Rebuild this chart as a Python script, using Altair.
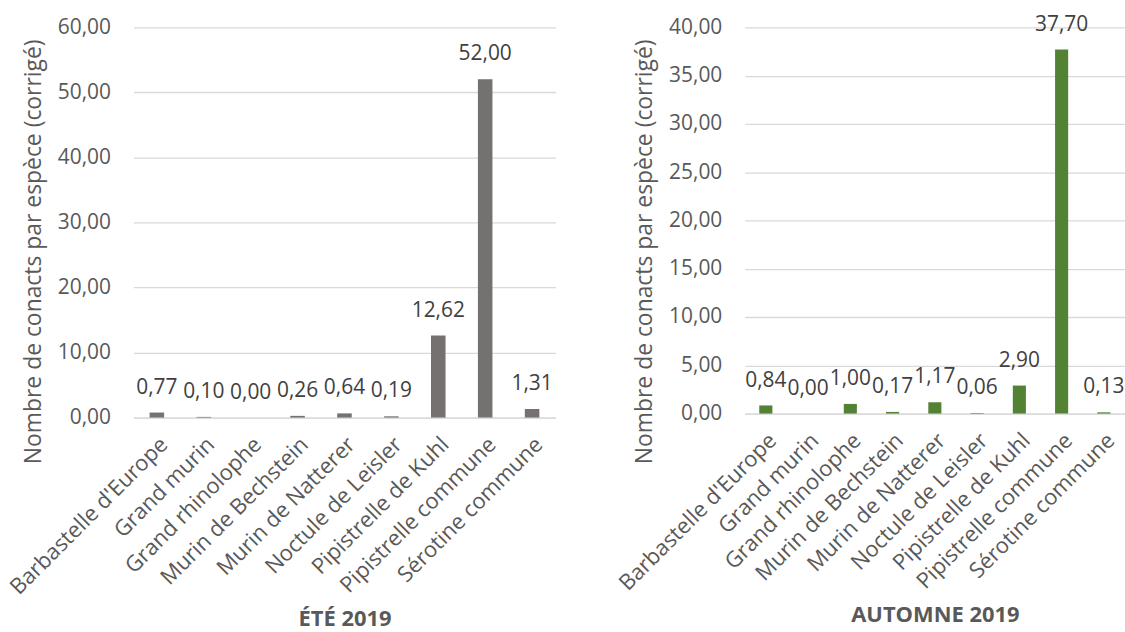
import altair as alt
import pandas as pd

species = [
    "Barbastelle d'Europe",
    "Grand murin",
    "Grand rhinolophe",
    "Murin de Bechstein",
    "Murin de Natterer",
    "Noctule de Leisler",
    "Pipistrelle de Kuhl",
    "Pipistrelle commune",
    "Sérotine commune",
]
ete_values = [0.77, 0.10, 0.00, 0.26, 0.64, 0.19, 12.62, 52.00, 1.31]
automne_values = [0.84, 0.00, 1.00, 0.17, 1.17, 0.06, 2.90, 37.70, 0.13]

ete_ticks = [0, 10, 20, 30, 40, 50, 60]
automne_ticks = [0, 5, 10, 15, 20, 25, 30, 35, 40]

y_title = "Nombre de conacts par espèce (corrigé)"
FONT = "Open Sans"
fmt_expr = "replace(format(datum.value, '.2f'), '.', ',')"


def panel(values, color, title, ticks, width, height, title_y):
    df = pd.DataFrame({"espece": species, "valeur": values})
    base = alt.Chart(df).transform_calculate(
        lab="replace(format(datum.valeur, '.2f'), '.', ',')"
    )
    x = alt.X(
        "espece:N",
        sort=species,
        scale=alt.Scale(paddingInner=0.69, paddingOuter=0.345),
        axis=alt.Axis(
            title=title,
            labelAngle=-45,
            labelFontSize=22,
            labelFont=FONT,
            labelColor="#595959",
            labelPadding=16,
            labelLimit=400,
            ticks=False,
            domainColor="#d9d9d9",
            domainWidth=1.3,
            grid=False,
            titleFont=FONT,
            titleFontSize=22,
            titleFontWeight="bold",
            titleColor="#595959",
            titlePadding=10,
        ),
    )
    y = alt.Y(
        "valeur:Q",
        scale=alt.Scale(domain=[ticks[0], ticks[-1]], nice=False),
        axis=alt.Axis(
            title=y_title,
            values=ticks,
            labelExpr=fmt_expr,
            labelFontSize=21,
            labelFont=FONT,
            labelColor="#595959",
            labelPadding=23,
            ticks=False,
            domain=False,
            gridColor="#d9d9d9",
            gridWidth=1.3,
            titleFont=FONT,
            titleFontSize=23,
            titleFontWeight="normal",
            titleColor="#595959",
            titlePadding=12,
            titleY=title_y,
        ),
    )
    bars = base.mark_bar(color=color).encode(x=x, y=y)
    text = base.mark_text(
        dy=-25, baseline="middle", fontSize=21, font=FONT, color="#404040"
    ).encode(x=x, y=y, text="lab:N")
    return alt.layer(bars, text).properties(width=width, height=height)


left = panel(ete_values, "#767171", "ÉTÉ 2019", ete_ticks, 424, 392, 225)
right = panel(automne_values, "#548235", "AUTOMNE 2019", automne_ticks, 382, 388, 225)

chart = (
    alt.hconcat(left, right, spacing=59)
    .configure(padding={"left": 5, "top": 12, "right": 0, "bottom": 0}, background="white")
    .configure_view(stroke=None)
)

chart.save("out.html", embed_options={"renderer": "svg", "actions": False})
